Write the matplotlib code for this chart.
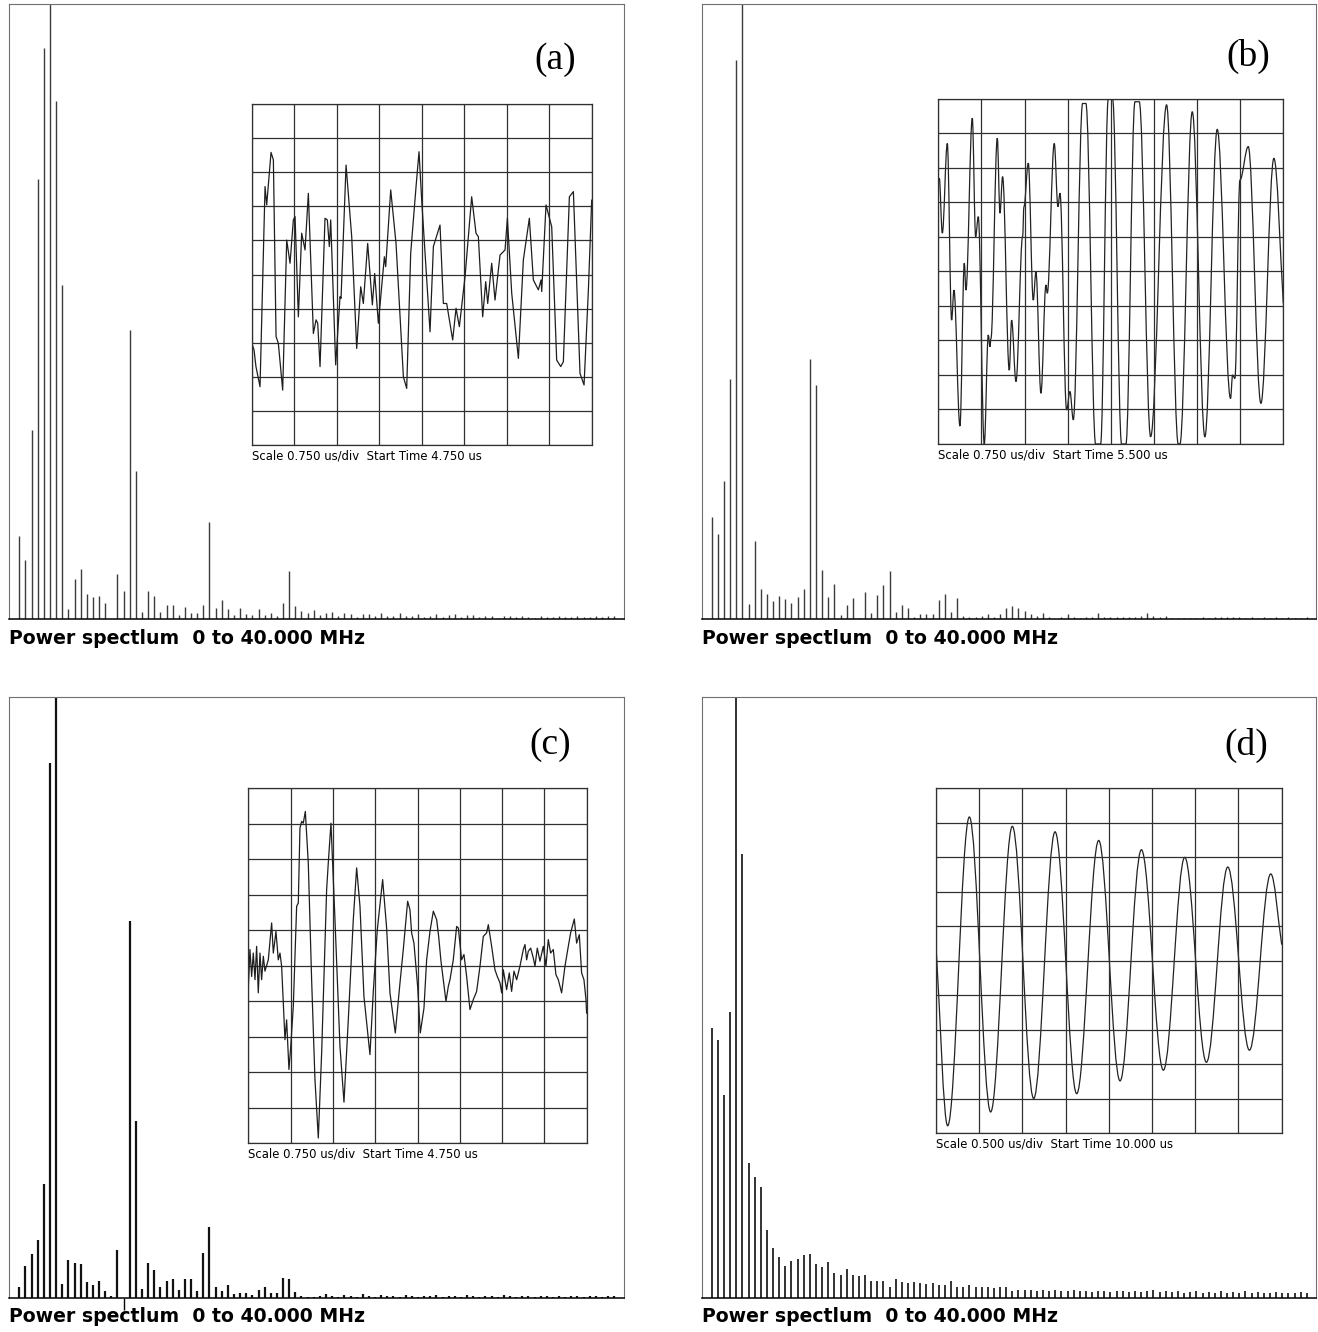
import numpy as np
import matplotlib
matplotlib.use('Agg')
import matplotlib.pyplot as plt
from matplotlib.path import Path
from matplotlib.patches import PathPatch

# power spectra: relative line heights, one per frequency bin (0..40 MHz)
spec_a = [0.136, 0.097, 0.307, 0.715, 0.929, 1.0, 0.842, 0.543, 0.017, 0.065,
          0.082, 0.041, 0.036, 0.038, 0.027, 0.001, 0.074, 0.046, 0.470, 0.241,
          0.012, 0.046, 0.038, 0.012, 0.024, 0.023, 0.007, 0.020, 0.010, 0.010,
          0.024, 0.158, 0.019, 0.031, 0.016, 0.007, 0.018, 0.008, 0.007, 0.016,
          0.007, 0.010, 0.005, 0.027, 0.079, 0.021, 0.014, 0.011, 0.015, 0.0065,
          0.011, 0.0125, 0.006, 0.010, 0.009, 0.004, 0.008, 0.008, 0.006, 0.011,
          0.006, 0.006, 0.010, 0.0055, 0.006, 0.009, 0.0045, 0.0055, 0.009, 0.0045,
          0.0065, 0.008, 0.003, 0.007, 0.0075, 0.003, 0.006, 0.006, 0.002, 0.006,
          0.005, 0.003, 0.006, 0.004, 0.002, 0.006, 0.004, 0.003, 0.006, 0.004,
          0.003, 0.006, 0.004, 0.003, 0.006, 0.004, 0.005, 0.006]
spec_b = [0.166, 0.139, 0.224, 0.390, 0.909, 1.0, 0.025, 0.127, 0.050, 0.041,
          0.029, 0.038, 0.033, 0.027, 0.036, 0.049, 0.423, 0.381, 0.080, 0.036,
          0.058, 0.007, 0.023, 0.034, 0.002, 0.045, 0.010, 0.039, 0.056, 0.078,
          0.012, 0.023, 0.018, 0.004, 0.008, 0.009, 0.008, 0.031, 0.041, 0.012,
          0.034, 0.006, 0.003, 0.003, 0.005, 0.008, 0.003, 0.008, 0.018, 0.022,
          0.018, 0.014, 0.008, 0.005, 0.010, 0.004, 0.001, 0.004, 0.008, 0.004,
          0.002, 0.003, 0.003, 0.010, 0.003, 0.004, 0.004, 0.004, 0.003, 0.004,
          0.006, 0.010, 0.005, 0.004, 0.006, 0.002, 0.002, 0.002, 0.002, 0.002,
          0.003, 0.002, 0.004, 0.003, 0.004, 0.003, 0.003, 0.002, 0.003, 0.002,
          0.003, 0.002, 0.004, 0.002, 0.003, 0.002, 0.002, 0.004]
spec_c = [0.019, 0.053, 0.073, 0.097, 0.189, 0.890, 1.0, 0.024, 0.063, 0.059,
          0.056, 0.026, 0.022, 0.029, 0.012, 0.004, 0.080, 0.0, 0.628, 0.295,
          0.015, 0.058, 0.046, 0.018, 0.029, 0.031, 0.013, 0.032, 0.031, 0.012,
          0.075, 0.118, 0.018, 0.011, 0.022, 0.007, 0.008, 0.008, 0.005, 0.014,
          0.018, 0.008, 0.008, 0.034, 0.032, 0.010, 0.003, 0.002, 0.002, 0.003,
          0.007, 0.004, 0.002, 0.005, 0.003, 0.002, 0.006, 0.003, 0.002, 0.005,
          0.003, 0.004, 0.002, 0.005, 0.003, 0.002, 0.004, 0.003, 0.005, 0.002,
          0.003, 0.004, 0.002, 0.005, 0.003, 0.002, 0.004, 0.003, 0.002, 0.005,
          0.003, 0.002, 0.004, 0.003, 0.002, 0.004, 0.003, 0.002, 0.004, 0.002,
          0.003, 0.004, 0.002, 0.003, 0.004, 0.002, 0.003, 0.004]
spec_d = [0.449, 0.429, 0.337, 0.476, 1.0, 0.739, 0.224, 0.201, 0.185, 0.113,
          0.084, 0.069, 0.053, 0.062, 0.065, 0.071, 0.073, 0.056, 0.052, 0.060,
          0.041, 0.038, 0.049, 0.039, 0.037, 0.039, 0.028, 0.029, 0.029, 0.018,
          0.031, 0.026, 0.025, 0.027, 0.025, 0.024, 0.025, 0.022, 0.022, 0.029,
          0.018, 0.019, 0.022, 0.019, 0.019, 0.018, 0.016, 0.018, 0.018, 0.012,
          0.013, 0.014, 0.013, 0.012, 0.013, 0.012, 0.014, 0.011, 0.012, 0.013,
          0.011, 0.012, 0.010, 0.012, 0.011, 0.010, 0.012, 0.011, 0.010, 0.012,
          0.010, 0.011, 0.013, 0.010, 0.011, 0.010, 0.011, 0.009, 0.010, 0.011,
          0.009, 0.010, 0.008, 0.011, 0.009, 0.010, 0.008, 0.011, 0.009, 0.010,
          0.008, 0.009, 0.010, 0.008, 0.009, 0.008, 0.010, 0.009]

# oscilloscope traces: (time in divisions, amplitude in divisions)
trace_a = [(0.0, 2.18), (0.0, -2.02), (0.055, -2.21), (0.10, -2.70), (0.196, -3.29),
           (0.314, 2.58), (0.353, 2.04), (0.455, 3.58), (0.51, 3.36), (0.573, -1.82),
           (0.627, -2.02), (0.729, -3.39), (0.824, 1.01), (0.902, 0.33), (0.98, 1.60),
           (1.02, 1.70), (1.098, -1.24), (1.176, 1.21), (1.255, 0.72), (1.333, 2.38),
           (1.451, -1.73), (1.514, -1.33), (1.553, -1.43), (1.608, -2.70), (1.725, 1.65),
           (1.78, 1.60), (1.827, 0.82), (1.859, 1.60), (1.976, -2.65), (2.078, -0.65),
           (2.102, -0.70), (2.22, 3.21), (2.353, 1.11), (2.471, -2.17), (2.565, -0.36),
           (2.627, -0.85), (2.729, 0.91), (2.839, -0.89), (2.894, 0.03), (2.98, -1.43),
           (3.122, 0.52), (3.153, 0.23), (3.271, 2.48), (3.396, 0.91), (3.569, -3.00),
           (3.647, -3.34), (3.741, 0.62), (3.867, 2.58), (3.937, 3.60), (4.0, 2.18),
           (4.196, -1.68), (4.275, 0.82), (4.431, 1.45), (4.51, -0.85), (4.588, -0.85),
           (4.729, -1.92), (4.808, -0.99), (4.886, -1.53), (5.02, -0.06), (5.176, 2.28),
           (5.278, 1.21), (5.333, 1.11), (5.435, -1.24), (5.506, -0.21), (5.553, -0.85),
           (5.647, 0.33), (5.725, -0.75), (5.843, 0.57), (5.961, 0.72), (6.016, 1.65),
           (6.118, -0.55), (6.275, -2.46), (6.392, 0.43), (6.533, 1.65), (6.627, -0.16),
           (6.745, -0.45), (6.808, -0.16), (6.824, -0.50), (6.925, 2.04), (7.059, 1.40),
           (7.176, -2.51), (7.271, -2.70), (7.333, -2.56), (7.475, 2.28), (7.569, 2.43),
           (7.725, -2.90), (7.82, -3.24), (7.922, -0.45), (8.0, 2.18)]
trace_b = [(0.0, 2.65), (0.023, 2.70), (0.093, 1.11), (0.209, 3.71), (0.309, -1.41),
           (0.363, -0.54), (0.502, -4.48), (0.603, 0.24), (0.641, -0.54), (0.788, 4.44),
           (0.866, 1.01), (0.927, 1.59), (1.066, -5.0), (1.159, -1.84), (1.198, -2.18),
           (1.221, -1.94), (1.368, 3.86), (1.43, 1.69), (1.491, 2.75), (1.646, -2.86),
           (1.70, -1.41), (1.801, -3.19), (1.955, 1.01), (1.986, 1.88), (2.087, 3.14),
           (2.202, -0.83), (2.264, -0.01), (2.38, -3.53), (2.496, -0.39), (2.527, -0.63),
           (2.689, 3.71), (2.774, 1.88), (2.821, 2.27), (2.975, -4.01), (3.053, -3.48),
           (3.13, -4.30), (3.346, 4.87), (3.423, 4.87), (3.648, -5.0), (3.764, -5.0),
           (3.941, 5.0), (4.042, 5.0), (4.25, -5.0), (4.351, -5.0), (4.56, 4.92),
           (4.66, 4.92), (4.923, -4.79), (5.294, 4.83), (5.564, -5.0), (5.603, -5.0),
           (5.889, 4.63), (6.182, -4.79), (6.468, 4.12), (6.777, -3.68), (6.824, -3.00),
           (6.878, -3.10), (6.994, 2.65), (7.187, 3.62), (7.481, -3.82), (7.782, 3.28),
           (8.0, -0.92)]
trace_c = [(0.0, -0.63), (0.039, 0.45), (0.079, -0.31), (0.118, 0.35), (0.158, -0.40),
           (0.197, 0.54), (0.236, -0.77), (0.276, 0.35), (0.315, -0.40), (0.355, 0.26),
           (0.394, -0.16), (0.473, 0.16), (0.552, 1.20), (0.591, 0.35), (0.654, 0.96),
           (0.709, 0.16), (0.749, 0.35), (0.788, -0.02), (0.867, -2.09), (0.906, -1.53),
           (0.961, -2.93), (1.001, -2.32), (1.064, -1.15), (1.143, 1.67), (1.182, 1.76),
           (1.221, 3.87), (1.261, 4.06), (1.30, 4.01), (1.348, 4.34), (1.418, 2.89),
           (1.497, -0.40), (1.576, -3.22), (1.655, -4.86), (1.734, -2.46), (1.852, 2.14),
           (1.891, 2.89), (1.954, 4.01), (2.049, 1.29), (2.167, -2.28), (2.262, -3.85),
           (2.364, -1.53), (2.482, 1.29), (2.561, 2.75), (2.64, 1.67), (2.734, -0.87),
           (2.876, -2.51), (2.955, -0.73), (3.05, 1.01), (3.176, 2.42), (3.27, 1.06),
           (3.349, -0.77), (3.475, -1.90), (3.586, -0.49), (3.664, 0.45), (3.767, 1.81),
           (3.822, 1.57), (3.861, 0.92), (3.916, 0.63), (4.003, -0.59), (4.066, -1.90),
           (4.153, -1.20), (4.216, 0.16), (4.295, 0.96), (4.374, 1.53), (4.453, 1.29),
           (4.50, 0.82), (4.555, 0.12), (4.673, -1.01), (4.728, -0.59), (4.768, -0.40),
           (4.846, 0.16), (4.925, 1.10), (4.965, 1.06), (5.043, 0.16), (5.098, 0.31),
           (5.162, -0.31), (5.24, -1.24), (5.319, -0.96), (5.398, -0.73), (5.477, -0.02),
           (5.556, 0.82), (5.634, 0.92), (5.674, 1.15), (5.753, 0.54), (5.831, -0.12),
           (5.887, -0.31), (5.95, -0.49), (5.989, -0.77), (6.028, -0.12), (6.107, -0.68),
           (6.17, -0.21), (6.225, -0.73), (6.281, -0.16), (6.344, -0.40), (6.422, -0.02),
           (6.501, 0.45), (6.541, 0.59), (6.58, 0.16), (6.619, 0.40), (6.675, 0.49),
           (6.738, 0.21), (6.777, -0.02), (6.832, 0.49), (6.895, 0.12), (6.974, 0.54),
           (7.037, -0.02), (7.092, 0.73), (7.147, 0.35), (7.21, 0.45), (7.273, -0.26),
           (7.329, -0.40), (7.407, -0.77), (7.486, -0.02), (7.565, 0.54), (7.62, 0.92),
           (7.707, 1.31), (7.762, 0.63), (7.825, 0.87), (7.88, -0.21), (7.935, -0.40),
           (7.983, -0.96), (7.998, -1.34)]
trace_d = [(0.0, 0.41), (0.27, -4.79), (0.772, 4.16), (1.265, -4.39), (1.767, 3.89),
           (2.261, -4.00), (2.755, 3.73), (3.256, -3.86), (3.765, 3.48), (4.259, -3.49),
           (4.753, 3.21), (5.262, -3.18), (5.756, 2.99), (6.258, -2.95), (6.752, 2.71),
           (7.253, -2.60), (7.747, 2.51), (8.0, 0.46)]

letters = ['(a)', '(b)', '(c)', '(d)']
bottom_label = 'Power spectlum  0 to 40.000 MHz'
scale_labels = ['Scale 0.750 us/div  Start Time 4.750 us',
                'Scale 0.750 us/div  Start Time 5.500 us',
                'Scale 0.750 us/div  Start Time 4.750 us',
                'Scale 0.500 us/div  Start Time 10.000 us']


def smooth_path(pts):
    # cubic curves between read extrema, flat tangent at each extremum
    t, v = np.array(pts).T
    verts = [(t[0], v[0])]
    codes = [Path.MOVETO]
    n = len(t)
    for i in range(n - 1):
        dt = t[i + 1] - t[i]
        c1 = (t[i] + 0.36 * dt, v[i])
        c2 = (t[i + 1] - 0.36 * dt, v[i + 1])
        if i == 0:
            c1 = (t[i] + dt / 3, v[i] + (v[i + 1] - v[i]) / 3)
        if i == n - 2:
            c2 = (t[i + 1] - dt / 3, v[i + 1] - (v[i + 1] - v[i]) / 3)
        verts += [c1, c2, (t[i + 1], v[i + 1])]
        codes += [Path.CURVE4] * 3
    return Path(verts, codes)


fig = plt.figure(figsize=(13.18, 13.32), dpi=100)

W, H = 1318.0, 1332.0
# spectrum panels (left, top, right, bottom) in pixels
panels = [(9.3, 4, 623.5, 619.3), (701.7, 4, 1316, 619.3),
          (9.3, 697, 623.5, 1298), (701.7, 697, 1316, 1298)]
insets = [(251.7, 104, 591.7, 445), (938.3, 99, 1283.3, 444),
          (248.3, 788, 586.7, 1143), (936, 788, 1281.7, 1133)]
letter_pos = [(0.888, 0.909), (0.889, 0.914), (0.880, 0.920), (0.886, 0.920)]
specs = [spec_a, spec_b, spec_c, spec_d]
traces = [trace_a, trace_b, trace_c, trace_d]
line_style = [('#3c3c3c', 1.0), ('#3c3c3c', 1.0), ('#111111', 1.6), ('#222222', 1.3)]


def fig_rect(box):
    l, t, r, b = box
    return [l / W, 1 - b / H, (r - l) / W, (b - t) / H]


for i in range(4):
    ax = fig.add_axes(fig_rect(panels[i]))
    s = np.array(specs[i])
    k = np.arange(len(s))
    col, lw = line_style[i]
    ax.vlines(k, 0, s, color=col, lw=lw)
    ax.set_xlim(-1.63, 98.5)
    ax.set_ylim(0, 1)
    ax.set_yticks([])
    if i == 2:
        ax.set_xticks([17])
        ax.tick_params(axis='x', direction='out', length=8.5, width=1.0,
                       colors='black', labelbottom=False)
    else:
        ax.set_xticks([])
    for side in ['top', 'left', 'right']:
        ax.spines[side].set_linestyle((0, (1.5, 1)))
        ax.spines[side].set_color('#707070')
        ax.spines[side].set_linewidth(0.8)
    ax.spines['bottom'].set_color('black')
    ax.spines['bottom'].set_linewidth(1.1)
    ax.text(0.0, -0.031, bottom_label, transform=ax.transAxes, ha='left',
            va='center', fontsize=13.6, fontweight='bold', family='DejaVu Sans')
    ax.text(letter_pos[i][0], letter_pos[i][1], letters[i], transform=ax.transAxes,
            ha='center', va='center', fontsize=27, family='Liberation Serif')

    # scope inset
    ins = fig.add_axes(fig_rect(insets[i]))
    ins.set_xlim(0, 8)
    ins.set_ylim(-5, 5)
    ins.set_xticks(range(9))
    ins.set_yticks(range(-5, 6))
    ins.tick_params(length=0, labelbottom=False, labelleft=False)
    ins.grid(True, color='#303030', lw=0.9)
    for sp in ins.spines.values():
        sp.set_color('#303030')
        sp.set_linewidth(0.9)
    if i in (1, 3):
        ins.add_patch(PathPatch(smooth_path(traces[i]), fill=False,
                                edgecolor='#222222', lw=0.9))
    else:
        tt, vv = np.array(traces[i]).T
        ins.plot(tt, vv, color='#1e1e1e', lw=0.9)
    ins.text(0.0, -0.032, scale_labels[i], transform=ins.transAxes, ha='left',
             va='center', fontsize=8.4, family='DejaVu Sans')

fig.savefig('out.png', dpi=100)
